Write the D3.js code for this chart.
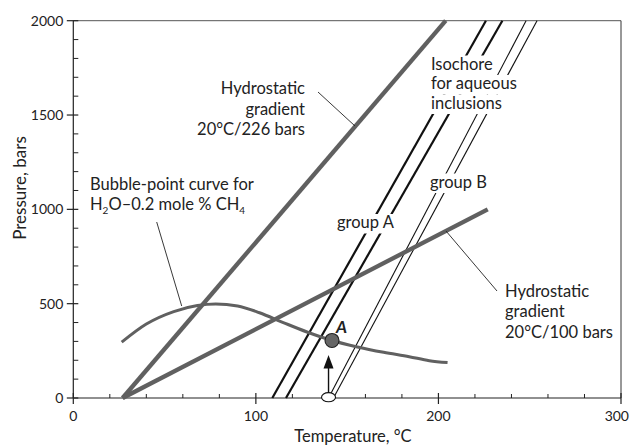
<!DOCTYPE html>
<html>
<head>
<meta charset="utf-8">
<script src="https://cdn.jsdelivr.net/npm/d3@7"></script>
<style>
  html, body { margin: 0; padding: 0; background: #fff; }
  svg text { font-family: Lato, "Open Sans", sans-serif; fill: #222; }
</style>
</head>
<body>
<svg id="chart" width="630" height="446"></svg>
<script>
// ---- data ----
const xMajorTicks = [0, 100, 200, 300];
const yMajorTicks = [0, 500, 1000, 1500, 2000];
const xMinorStep = 20;
const yMinorStep = 100;

const hydro226 = [[27, 0], [204, 2000]];
const hydro100 = [[27, 0], [227, 1000]];
const groupA1 = [[109, 0], [226, 2000]];
const groupA2 = [[116.5, 0], [235, 2000]];
const groupB1 = [[139.8, 0], [248, 2000]];
const groupB2 = [[142.5, 0], [254, 2000]];
const bubbleCurve = [
  [26.5, 296], [40, 392], [55, 458], [68, 490], [78, 498], [90, 488],
  [102, 452], [115, 400], [128, 350], [141.7, 305], [155, 272],
  [170, 242], [184, 219], [195, 198], [205, 188]
];
const pointA = [141.7, 305];
const pointStart = [139.8, 0];

// ---- layout ----
const svg = d3.select("#chart");
const pL = 73.3, pR = 621, pT = 20.7, pB = 398;
const x = d3.scaleLinear().domain([0, 300]).range([pL, pR]);
const y = d3.scaleLinear().domain([0, 2000]).range([pB, pT]);

const grey = "#606060";

// frame (top and right)
svg.append("line").attr("x1", pL).attr("x2", pR).attr("y1", pT).attr("y2", pT)
  .attr("stroke", "#555").attr("stroke-width", 1);
svg.append("line").attr("x1", pR).attr("x2", pR).attr("y1", pT).attr("y2", pB)
  .attr("stroke", "#333").attr("stroke-width", 1);

// x axis
const xMinor = d3.range(0, 301, xMinorStep).filter(v => !xMajorTicks.includes(v));
const gx = svg.append("g");
gx.append("line").attr("x1", pL).attr("x2", pR).attr("y1", pB).attr("y2", pB)
  .attr("stroke", "#222").attr("stroke-width", 1.2);
gx.selectAll(".xmin").data(xMinor).enter().append("line")
  .attr("x1", d => x(d)).attr("x2", d => x(d)).attr("y1", pB).attr("y2", pB - 4)
  .attr("stroke", "#222").attr("stroke-width", 1);
gx.selectAll(".xmaj").data(xMajorTicks).enter().append("line")
  .attr("x1", d => x(d)).attr("x2", d => x(d)).attr("y1", pB - 5).attr("y2", pB + 6)
  .attr("stroke", "#222").attr("stroke-width", 1.2);
gx.selectAll(".xlab").data(xMajorTicks).enter().append("text")
  .attr("x", d => d === 300 ? 629 : x(d)).attr("y", pB + 22.5)
  .attr("text-anchor", d => d === 300 ? "end" : "middle")
  .attr("font-size", 14).text(d => d);

// y axis
const yMinor = d3.range(0, 2001, yMinorStep).filter(v => !yMajorTicks.includes(v));
const gy = svg.append("g");
gy.append("line").attr("x1", pL).attr("x2", pL).attr("y1", pT).attr("y2", pB)
  .attr("stroke", "#222").attr("stroke-width", 1.2);
gy.selectAll(".ymin").data(yMinor).enter().append("line")
  .attr("x1", pL).attr("x2", pL + 5).attr("y1", d => y(d)).attr("y2", d => y(d))
  .attr("stroke", "#222").attr("stroke-width", 1);
gy.selectAll(".ymaj").data(yMajorTicks).enter().append("line")
  .attr("x1", pL - 6.5).attr("x2", pL + 5).attr("y1", d => y(d)).attr("y2", d => y(d))
  .attr("stroke", "#222").attr("stroke-width", 1.2);
gy.selectAll(".ylab").data(yMajorTicks).enter().append("text")
  .attr("x", pL - 10).attr("y", d => y(d) + 5).attr("text-anchor", "end")
  .attr("font-size", 14).text(d => d);

// axis titles
svg.append("text").attr("x", 353).attr("y", 441.5).attr("text-anchor", "middle")
  .attr("font-size", 16.5).text("Temperature, °C");
svg.append("text").attr("transform", "translate(26,188) rotate(-90)").attr("text-anchor", "middle")
  .attr("font-size", 17).text("Pressure,  bars");

const line = d3.line().x(d => x(d[0])).y(d => y(d[1]));
const curve = d3.line().x(d => x(d[0])).y(d => y(d[1])).curve(d3.curveMonotoneX);

const plot = svg.append("g");
[groupA1, groupA2].forEach(d => {
  plot.append("path").attr("d", line(d)).attr("fill", "none")
    .attr("stroke", "#111").attr("stroke-width", 2.2);
});
[groupB1, groupB2].forEach(d => {
  plot.append("path").attr("d", line(d)).attr("fill", "none")
    .attr("stroke", "#111").attr("stroke-width", 1.1);
});
[hydro226, hydro100].forEach(d => {
  plot.append("path").attr("d", line(d)).attr("fill", "none")
    .attr("stroke", grey).attr("stroke-width", 4.3);
});
plot.append("path").attr("d", curve(bubbleCurve)).attr("fill", "none")
  .attr("stroke", grey).attr("stroke-width", 3);

// leader lines
const leaders = [
  [[156.7, 222], [181.7, 306]],
  [[318, 92], [355, 126]],
  [[446, 231], [497, 291]]
];
leaders.forEach(l => {
  svg.append("line").attr("x1", l[0][0]).attr("y1", l[0][1]).attr("x2", l[1][0]).attr("y2", l[1][1])
    .attr("stroke", "#222").attr("stroke-width", 0.9);
});

// arrow
const ax = x(pointStart[0]);
svg.append("line").attr("x1", ax).attr("x2", ax).attr("y1", y(pointStart[1]) - 4).attr("y2", 366)
  .attr("stroke", "#111").attr("stroke-width", 1.4);
svg.append("path").attr("d", `M${ax},355 L${ax - 5},368.5 L${ax + 5},368.5 Z`).attr("fill", "#111");

svg.append("ellipse").attr("cx", x(pointStart[0])).attr("cy", y(pointStart[1]) - 0.8)
  .attr("rx", 7).attr("ry", 4.6).attr("fill", "#fff").attr("stroke", "#111").attr("stroke-width", 1.1);
svg.append("circle").attr("cx", x(pointA[0])).attr("cy", y(pointA[1])).attr("r", 7)
  .attr("fill", "#666").attr("stroke", "#222").attr("stroke-width", 1.1);
svg.append("text").attr("x", 336).attr("y", 332.5)
  .attr("font-size", 17).attr("font-weight", "bold").attr("font-style", "italic").text("A");

// multi-line label blocks; optional white boxes behind each line
const boxLayer = svg.append("g");
const textLayer = svg.append("g");
function block(xp, ys, lines, anchor, boxed) {
  const t = textLayer.append("text").attr("font-size", 16.5).attr("text-anchor", anchor || "start");
  lines.forEach((s, i) => {
    const ts = t.append("tspan").attr("x", xp).attr("y", ys[i]).text(s);
    if (boxed) {
      const w = ts.node().getComputedTextLength();
      boxLayer.append("rect").attr("x", xp - 2).attr("y", ys[i] - 14)
        .attr("width", w + 4).attr("height", 19.5).attr("fill", "#fff");
    }
  });
  return t;
}
block(305, [94, 114.5, 135], ["Hydrostatic", "gradient", "20°C/226 bars"], "end");
block(431, [69.5, 89, 108.5], ["Isochore", "for aqueous", "inclusions"], "start", true);
block(505, [296.5, 317, 337.5], ["Hydrostatic", "gradient", "20°C/100 bars"]);
block(430, [187.5], ["group B"], "start", true);
block(337, [228], ["group A"], "start", true);

const bt = textLayer.append("text").attr("font-size", 16.5);
bt.append("tspan").attr("x", 90).attr("y", 190).text("Bubble-point curve for");
bt.append("tspan").attr("x", 90).attr("y", 209.5).text("H");
bt.append("tspan").attr("font-size", 10).attr("dy", 4).text("2");
bt.append("tspan").attr("dy", -4).text("O–0.2 mole % CH");
bt.append("tspan").attr("font-size", 10).attr("dy", 4).text("4");
</script>
</body>
</html>
